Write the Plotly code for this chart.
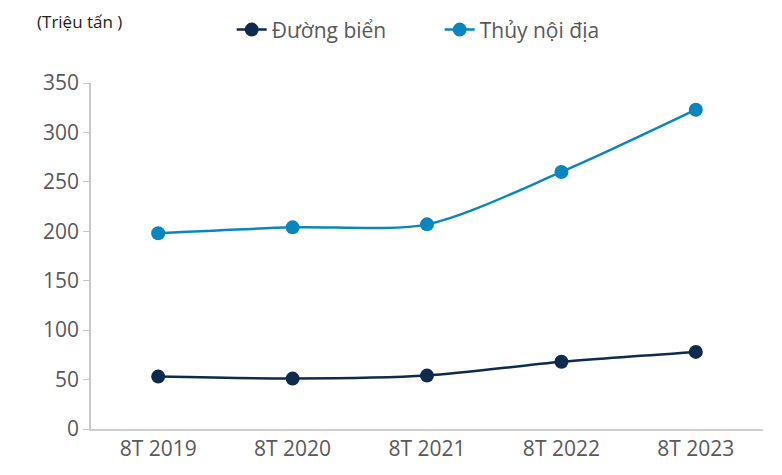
import plotly.graph_objects as go

categories = ["8T 2019", "8T 2020", "8T 2021", "8T 2022", "8T 2023"]
duong_bien = [53, 51, 54, 68, 78]
thuy_noi_dia = [198, 204, 207, 260, 323]
y_ticks = [0, 50, 100, 150, 200, 250, 300, 350]

fig = go.Figure()
fig.add_trace(go.Scatter(
    x=categories, y=duong_bien, name="Đường biển", mode="lines+markers",
    line=dict(color="#0e2a4d", width=2.5, shape="spline", smoothing=0.8),
    marker=dict(size=14, color="#0e2a4d"),
))
fig.add_trace(go.Scatter(
    x=categories, y=thuy_noi_dia, name="Thủy nội địa", mode="lines+markers",
    line=dict(color="#0a86bf", width=2.5, shape="spline", smoothing=0.8),
    marker=dict(size=14, color="#0a86bf"),
))

fig.update_layout(
    width=774, height=467,
    margin=dict(l=83, r=19, t=75, b=46, autoexpand=False),
    plot_bgcolor="white", paper_bgcolor="white",
    font=dict(family="Open Sans", size=21, color="#595959"),
    showlegend=True,
    legend=dict(orientation="h", xref="container", yref="container",
                x=0.289, y=0.953, xanchor="left", yanchor="middle",
                entrywidth=163, entrywidthmode="pixels",
                font=dict(size=21, color="#595959"), tracegroupgap=0),
    annotations=[dict(text="(Triệu tấn )", xref="paper", yref="paper",
                      x=-0.0833, y=1.2165, xanchor="left", yanchor="top",
                      showarrow=False, font=dict(size=17, color="#222222"))],
)
fig.update_xaxes(type="category", range=[-0.5, 4.5], showline=True, linecolor="#d0d0d0",
                 linewidth=1.5, showgrid=False, ticks="", automargin=False,
                 tickfont=dict(size=21, color="#595959"))
fig.update_yaxes(range=[0, 350], tickvals=y_ticks, showline=True, linecolor="#c8c8c8",
                 linewidth=1.5, showgrid=False, ticks="outside", ticklen=6, tickcolor="#c8c8c8",
                 automargin=False, tickfont=dict(size=21, color="#595959"), zeroline=False)

fig.write_html("out.html")
